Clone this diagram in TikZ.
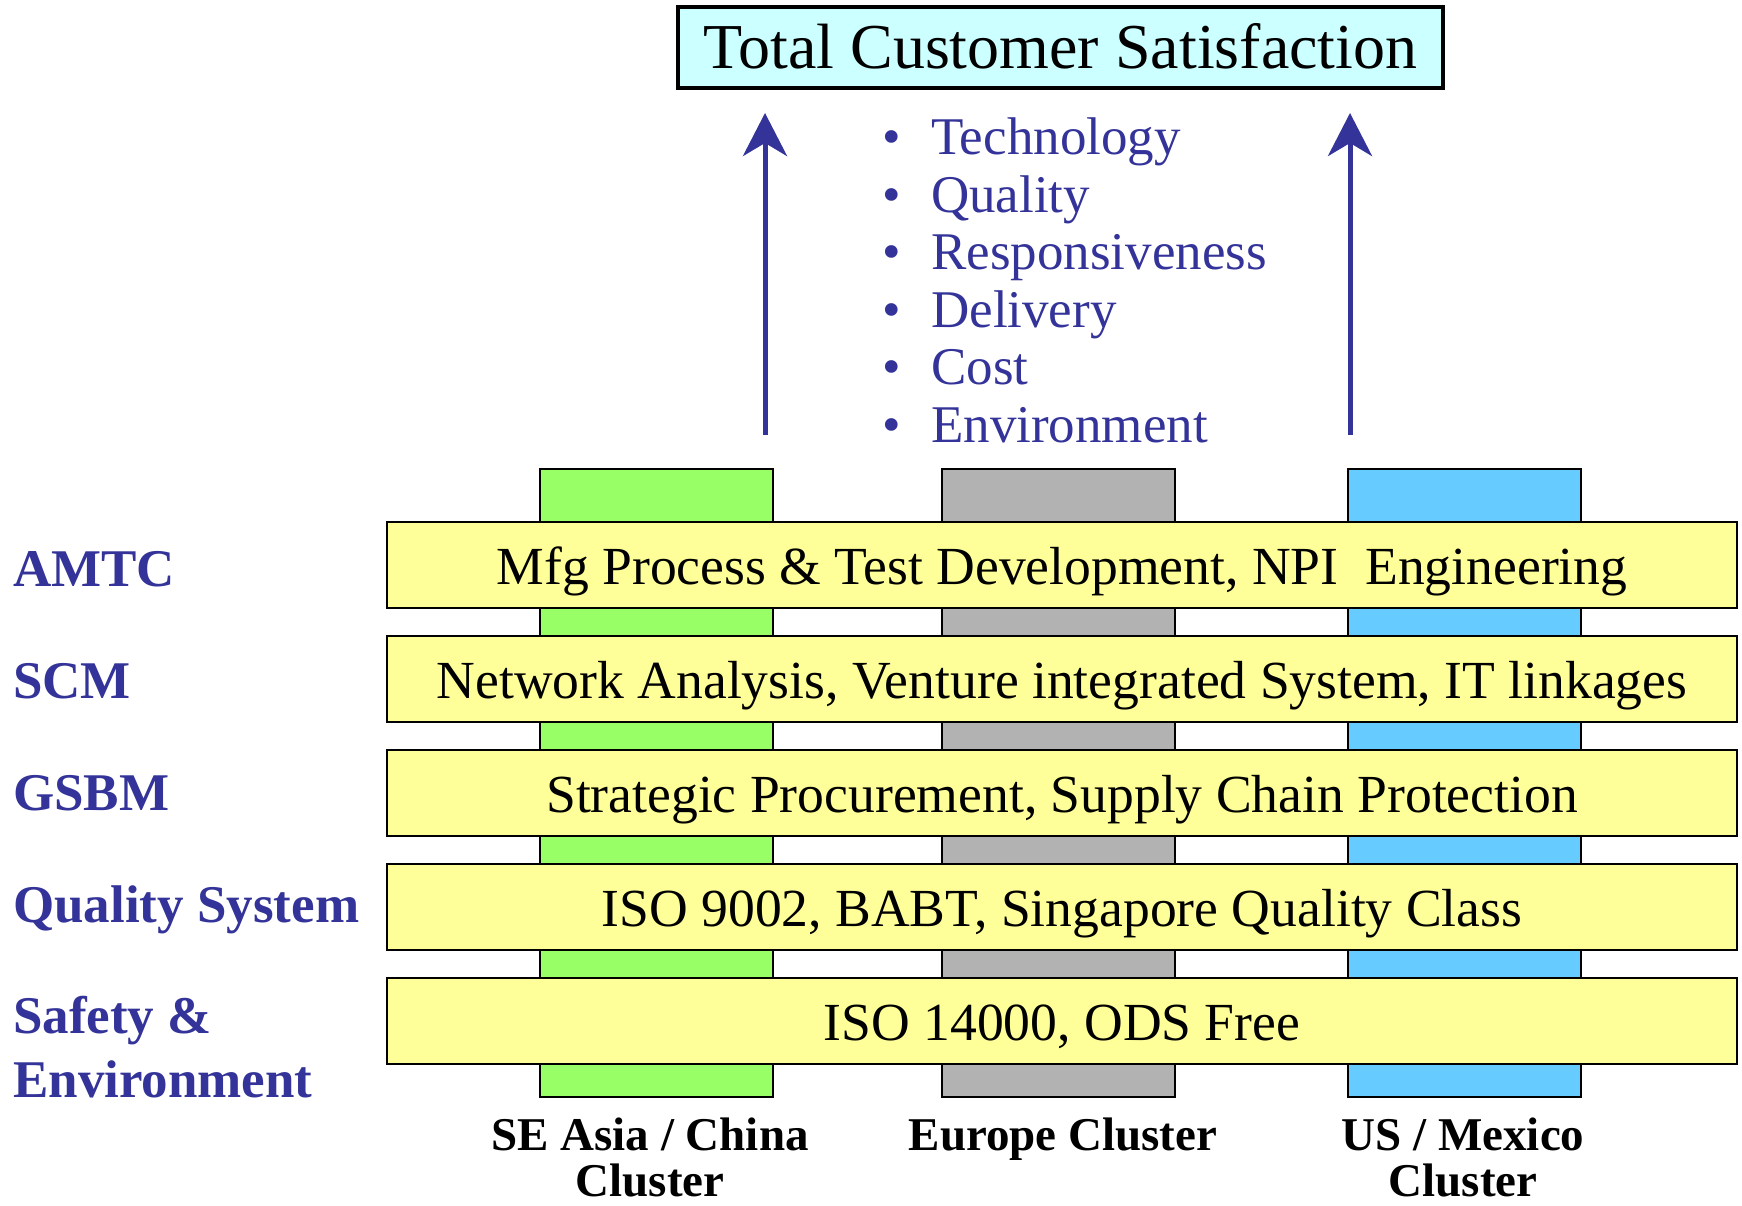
\documentclass[tikz,border=0pt]{standalone}
\usepackage{fontspec}
\setmainfont{Liberation Serif}
\usetikzlibrary{arrows.meta}
\definecolor{navy}{HTML}{333399}
\definecolor{titlefill}{HTML}{CCFFFF}
\definecolor{barfill}{HTML}{FFFF99}
\definecolor{asiafill}{HTML}{99FF66}
\definecolor{eurofill}{HTML}{B2B2B2}
\definecolor{usfill}{HTML}{66CCFF}
\tikzset{
  column/.style={draw=black, line width=2pt, minimum width=233pt, minimum height=628pt, inner sep=0pt},
  bar/.style={draw=black, line width=2.5pt, fill=barfill, minimum width=1350pt, minimum height=86pt,
    inner sep=0pt, text height=38pt, text depth=0pt, font=\fontsize{53.6}{60}\selectfont},
  titlebox/.style={draw=black, line width=3.5pt, fill=titlefill, minimum width=765pt, minimum height=81pt,
    inner sep=0pt, text height=42pt, text depth=0pt, font=\fontsize{64}{70}\selectfont},
  rowlabel/.style={anchor=base west, inner sep=0pt, text=navy, font=\fontsize{53}{60}\selectfont\bfseries},
  sitelabel/.style={anchor=base, inner sep=0pt, font=\fontsize{47}{50}\selectfont\bfseries},
  bulletmark/.style={anchor=base, inner sep=0pt, text=navy, font=\fontsize{53}{58}\selectfont},
  bullettext/.style={anchor=base west, inner sep=0pt, text=navy, font=\fontsize{53}{58}\selectfont},
  uparrow/.style={draw=navy, line width=5pt, -{Stealth[length=43pt, width=44pt, inset=13pt]}}
}
\begin{document}
\begin{tikzpicture}[x=1pt, y=-1pt]
\useasboundingbox (0,0) rectangle (1742,1205);

% regional cluster columns
\node[column, fill=asiafill] (asia) at (656.5,783) {};
\node[column, fill=eurofill] (euro) at (1058.5,783) {};
\node[column, fill=usfill]   (us)   at (1464.5,783) {};

% functional bars across the clusters
\node[bar] (amtc) at (1062,565) {Mfg Process \& Test Development, NPI\ \ Engineering};
\node[bar] (scm)  at (1062,679) {Network Analysis, Venture integrated System, IT linkages};
\node[bar] (gsbm) at (1062,793) {Strategic Procurement, Supply Chain Protection};
\node[bar] (qs)   at (1062,907) {ISO 9002, BABT, Singapore Quality Class};
\node[bar] (se)   at (1062,1021) {ISO 14000, ODS Free};

% row labels
\node[rowlabel] (lamtc) at (13,586) {AMTC};
\node[rowlabel] (lscm)  at (13,698) {SCM};
\node[rowlabel] (lgsbm) at (13,810) {GSBM};
\node[rowlabel] (lqs)   at (13,922) {Quality System};
\node[rowlabel] (lse1)  at (13,1033) {Safety \&};
\node[rowlabel] (lse2)  at (13,1097) {Environment};

% cluster labels
\node[sitelabel] (sasia1) at (650,1150) {SE Asia / China};
\node[sitelabel] (sasia2) at (650,1196) {Cluster};
\node[sitelabel] (seuro)  at (1063,1150) {Europe Cluster};
\node[sitelabel] (sus1)   at (1463,1150) {US / Mexico};
\node[sitelabel] (sus2)   at (1463,1196) {Cluster};

% goal
\node[titlebox] (tcs) at (1060.5,47.5) {Total Customer Satisfaction};

% drivers
\foreach \y/\t [count=\i] in {154/Technology, 212/Quality, 269/Responsiveness,
                              327/Delivery, 384/Cost, 442/Environment} {
  \node[bulletmark] (b\i) at (892,\y) {•};
  \node[bullettext] (d\i) at (931,\y) {\t};
}

% upward arrows
\coordinate (aleft0)  at (765,435);
\coordinate (aleft1)  at (765,113);
\coordinate (aright0) at (1350,435);
\coordinate (aright1) at (1350,113);
\draw[uparrow] (aleft0) -- (aleft1);
\draw[uparrow] (aright0) -- (aright1);
\end{tikzpicture}
\end{document}
